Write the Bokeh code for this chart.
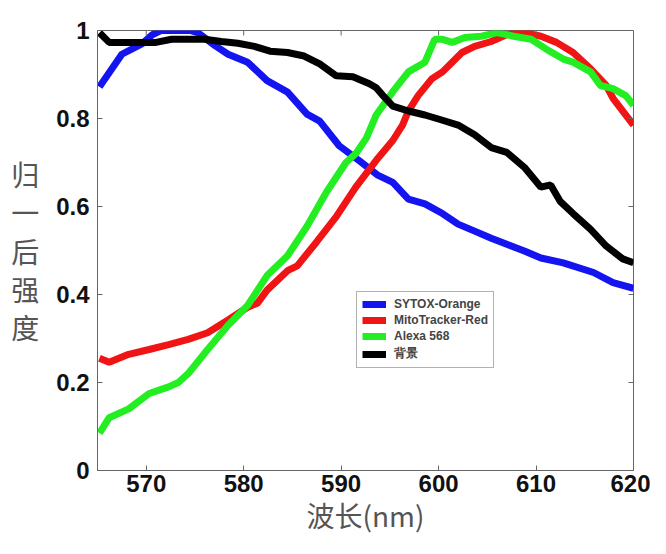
import math
from bokeh.plotting import figure
from bokeh.models import Range1d, FixedTicker, Legend, LegendItem
from bokeh.embed import file_html
from bokeh.resources import INLINE

# Data (wavelength nm -> normalized intensity)
sytox_x = [565.2, 567.5, 569.6, 570.6, 571.5, 573.0, 574.5, 575.3, 577.1, 578.4, 580.4, 582.4,
           584.5, 586.5, 587.8, 589.8, 591.8, 593.7, 595.3, 596.9, 598.6, 600.4, 602.0, 603.7,
           605.4, 607.0, 608.8, 610.5, 612.8, 615.9, 617.9, 620.0]
sytox_y = [0.872, 0.946, 0.970, 0.990, 1.000, 1.000, 1.000, 0.995, 0.965, 0.946, 0.928, 0.886,
           0.860, 0.810, 0.794, 0.738, 0.705, 0.672, 0.655, 0.617, 0.606, 0.584, 0.560, 0.544,
           0.528, 0.514, 0.499, 0.483, 0.472, 0.450, 0.427, 0.414]

mito_x = [565.2, 566.2, 568.2, 570.3, 572.3, 574.3, 576.3, 578.4, 580.4, 581.4, 582.4, 584.5,
          585.5, 587.5, 589.5, 591.5, 593.6, 595.3, 596.3, 596.9, 597.9, 599.3, 600.4, 601.4,
          602.4, 603.7, 605.4, 607.0, 608.8, 610.5, 612.1, 613.8, 615.6, 617.2, 617.9, 618.9, 620.0]
mito_y = [0.255, 0.246, 0.264, 0.275, 0.286, 0.298, 0.313, 0.342, 0.371, 0.380, 0.410, 0.454,
          0.465, 0.520, 0.577, 0.644, 0.705, 0.750, 0.785, 0.817, 0.852, 0.890, 0.906, 0.928,
          0.950, 0.964, 0.975, 0.991, 0.995, 0.987, 0.973, 0.950, 0.913, 0.875, 0.846, 0.817, 0.785]

alexa_x = [565.2, 566.2, 568.2, 570.3, 572.3, 573.3, 574.3, 576.3, 578.4, 580.4, 582.4, 584.5,
           586.5, 588.5, 590.5, 591.5, 592.6, 593.6, 595.3, 596.9, 598.6, 599.6, 600.4, 601.4,
           602.7, 604.4, 606.0, 607.7, 609.5, 611.1, 612.8, 613.8, 615.6, 616.6, 617.9, 619.2, 620.0]
alexa_y = [0.085, 0.120, 0.140, 0.175, 0.190, 0.200, 0.220, 0.275, 0.330, 0.375, 0.443, 0.488,
           0.555, 0.633, 0.700, 0.720, 0.756, 0.808, 0.861, 0.906, 0.928, 0.980, 0.980, 0.973,
           0.984, 0.987, 0.995, 0.987, 0.980, 0.957, 0.935, 0.928, 0.906, 0.875, 0.868, 0.852, 0.830]

bg_x = [565.2, 566.2, 567.5, 571.0, 572.6, 576.0, 577.7, 579.4, 581.1, 582.7, 584.5, 586.2,
        587.8, 589.5, 591.2, 592.9, 593.6, 594.3, 595.3, 596.9, 598.6, 600.4, 602.0, 603.7,
        605.4, 607.0, 608.8, 610.5, 611.5, 612.5, 613.8, 615.6, 617.2, 618.9, 620.0]
bg_y = [0.995, 0.973, 0.973, 0.973, 0.980, 0.980, 0.975, 0.971, 0.964, 0.953, 0.950, 0.942,
        0.924, 0.897, 0.895, 0.879, 0.870, 0.852, 0.828, 0.817, 0.808, 0.796, 0.785, 0.763,
        0.734, 0.723, 0.689, 0.644, 0.649, 0.611, 0.584, 0.548, 0.510, 0.481, 0.472]

x_ticks = [570, 580, 590, 600, 610, 620]
y_ticks = [0, 0.2, 0.4, 0.6, 0.8, 1]
y_tick_labels = {0: "0", 0.2: "0.2", 0.4: "0.4", 0.6: "0.6", 0.8: "0.8", 1: "1"}
series_names = ["SYTOX-Orange", "MitoTracker-Red", "Alexa 568", "背景"]
x_min, x_max = 565, 620
y_min, y_max = 0, 1

p = figure(width=650, height=538, output_backend="svg", toolbar_location=None,
           x_range=Range1d(x_min, x_max), y_range=Range1d(y_min, y_max),
           min_border_left=97, min_border_right=17, min_border_top=30, min_border_bottom=68)
p.background_fill_color = "white"
p.border_fill_color = "white"
p.outline_line_color = "#666666"
p.grid.visible = False

lw = 7
r_blue = p.line(sytox_x, sytox_y, color="#1414f0", line_width=lw)
r_red = p.line(mito_x, mito_y, color="#f01414", line_width=lw)
r_green = p.line(alexa_x, alexa_y, color="#22ee22", line_width=lw)
r_black = p.line(bg_x, bg_y, color="#000000", line_width=lw)

# mirrored inward ticks on top and right edges, placed from the tick lists
p.ray(x=x_ticks, y=[y_max] * len(x_ticks), length=5, length_units="screen",
      angle=-math.pi / 2, line_color="#666666", line_width=1)
p.ray(x=[x_max] * len(y_ticks), y=y_ticks, length=5, length_units="screen",
      angle=math.pi, line_color="#666666", line_width=1)

font = "Liberation Sans"
for ax in p.xaxis + p.yaxis:
    ax.axis_line_color = "#666666"
    ax.major_tick_line_color = "#666666"
    ax.major_tick_in = 5
    ax.major_tick_out = 0
    ax.minor_tick_line_color = None
    ax.major_label_text_font = font
    ax.major_label_text_font_style = "bold"
    ax.major_label_text_font_size = "24px"
    ax.major_label_text_color = "#111111"
    ax.axis_label_text_font = "Noto Sans CJK SC"
    ax.axis_label_text_font_style = "normal"
    ax.axis_label_text_font_size = "28px"
    ax.axis_label_text_color = "#555555"

p.xaxis.ticker = FixedTicker(ticks=x_ticks)
p.yaxis.ticker = FixedTicker(ticks=y_ticks)
p.yaxis.major_label_overrides = y_tick_labels
p.xaxis.axis_label = "波长(nm)"
p.xaxis.axis_label_standoff = 0
p.xaxis.major_label_standoff = 4
p.yaxis.axis_label = "归\n一\n后\n强\n度"
p.yaxis.axis_label_orientation = "horizontal"
p.yaxis.axis_label_text_line_height = 0.96
p.yaxis.axis_label_standoff = 14
p.yaxis.major_label_standoff = 8

legend = Legend(items=[LegendItem(label=series_names[0], renderers=[r_blue]),
                       LegendItem(label=series_names[1], renderers=[r_red]),
                       LegendItem(label=series_names[2], renderers=[r_green]),
                       LegendItem(label=series_names[3], renderers=[r_black])],
                location=(259, 102))
legend.label_text_font = font
legend.label_text_font_style = "bold"
legend.label_text_font_size = "12px"
legend.label_height = 14
legend.glyph_height = 12
legend.glyph_width = 24
legend.spacing = 2
legend.padding = 5
legend.margin = 0
legend.label_standoff = 8
legend.border_line_color = "#666666"
legend.background_fill_alpha = 1
p.add_layout(legend, "center")

open("out.html", "w").write(file_html(p, INLINE))
